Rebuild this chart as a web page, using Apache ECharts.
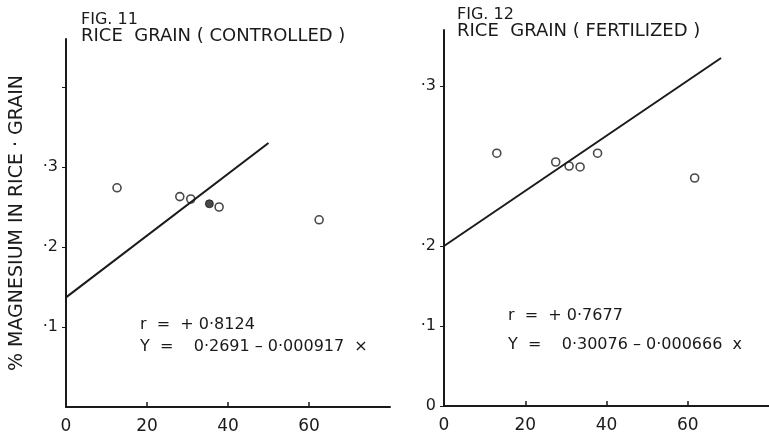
<!DOCTYPE html>
<html>
<head>
<meta charset="utf-8">
<title>Rice grain magnesium</title>
<script src="https://cdn.jsdelivr.net/npm/echarts@6/dist/echarts.min.js"></script>
<style>
  html, body { margin: 0; padding: 0; background: #fff; }
  #chart { width: 769px; height: 442px; }
</style>
</head>
<body>
<div id="chart"></div>
<script>
// x tick labels (both figures)
var xTicks = [0, 20, 40, 60];

// FIG. 11 - controlled
var leftX = [12.6, 28.1, 30.8, 37.8, 62.5];
var leftY = [0.274, 0.263, 0.260, 0.250, 0.234];
var leftSolidX = [35.4];
var leftSolidY = [0.254];
var leftFitX = [0, 50];
var leftFitY = [0.137, 0.330];
var leftYTicks = [0.1, 0.2, 0.3];

// FIG. 12 - fertilized
var rightX = [13.0, 27.5, 30.8, 33.5, 37.8, 61.7];
var rightY = [0.258, 0.2525, 0.250, 0.2494, 0.258, 0.2425];
var rightFitX = [0, 68.2];
var rightFitY = [0.200, 0.3175];
var rightYTicks = [0, 0.1, 0.2, 0.3];

function tickName(v) {
  if (v === 0) return '0';
  return '·' + Math.round(v * 10);
}

// the right figure's scale is drawn stretched above .2 (·2 to ·3 takes twice the room)
function rAxis(v) { return v <= 0.2 ? v : 0.2 + 2 * (v - 0.2); }
function rValue(u) { return u <= 0.2 ? u : 0.2 + (u - 0.2) / 2; }

function pairs(xs, ys, f) {
  return xs.map(function (x, i) { return [x, f ? f(ys[i]) : ys[i]]; });
}

var ink = '#1a1a1a';
var font = 'DejaVu Sans';

var chart = echarts.init(document.getElementById('chart'));

var xAxisBase = {
  type: 'value', min: 0, max: 80,
  splitLine: { show: false },
  axisLine: { lineStyle: { color: ink, width: 2 } },
  axisTick: { inside: true, length: 5, lineStyle: { color: ink, width: 1.5 }, customValues: xTicks },
  axisLabel: { color: ink, fontSize: 17, fontFamily: font, margin: 11, customValues: xTicks }
};

var option = {
  backgroundColor: '#fff',
  animation: false,
  grid: [
    { left: 66, top: 39, width: 324, height: 368 },
    { left: 444, top: 30, width: 332, height: 376 }
  ],
  xAxis: [
    Object.assign({ gridIndex: 0 }, xAxisBase),
    Object.assign({ gridIndex: 1 }, xAxisBase)
  ],
  yAxis: [
    {
      gridIndex: 0, type: 'value', min: 0, max: 0.46,
      name: '% MAGNESIUM IN RICE · GRAIN',
      nameLocation: 'middle', nameGap: 39, nameRotate: 90,
      nameTextStyle: { color: ink, fontSize: 19, fontFamily: font },
      splitLine: { show: false },
      axisLine: { lineStyle: { color: ink, width: 2 } },
      axisTick: { length: 4, lineStyle: { color: ink }, customValues: leftYTicks.concat([0.4]) },
      axisLabel: { color: ink, fontSize: 16, fontFamily: font, margin: 8,
        customValues: leftYTicks, formatter: function (v) { return tickName(v); } }
    },
    {
      gridIndex: 1, type: 'value', min: 0, max: 0.47,
      splitLine: { show: false },
      axisLine: { lineStyle: { color: ink, width: 2 } },
      axisTick: { length: 4, lineStyle: { color: ink }, customValues: rightYTicks.map(rAxis) },
      axisLabel: { color: ink, fontSize: 16, fontFamily: font, margin: 8,
        customValues: rightYTicks.map(rAxis),
        formatter: function (u) { return tickName(Math.round(rValue(u) * 10) / 10); } }
    }
  ],
  series: [
    {
      type: 'line', xAxisIndex: 0, yAxisIndex: 0,
      data: pairs(leftFitX, leftFitY), symbol: 'none',
      lineStyle: { color: ink, width: 2 }
    },
    {
      type: 'scatter', xAxisIndex: 0, yAxisIndex: 0,
      data: pairs(leftX, leftY), symbol: 'circle', symbolSize: 8,
      itemStyle: { color: '#fff', borderColor: ink, borderWidth: 1.6 }
    },
    {
      type: 'scatter', xAxisIndex: 0, yAxisIndex: 0,
      data: pairs(leftSolidX, leftSolidY), symbol: 'circle', symbolSize: 8,
      itemStyle: { color: ink, borderColor: ink, borderWidth: 1 }
    },
    {
      type: 'line', xAxisIndex: 1, yAxisIndex: 1,
      data: pairs(rightFitX, rightFitY, rAxis), symbol: 'none',
      lineStyle: { color: ink, width: 2 }
    },
    {
      type: 'scatter', xAxisIndex: 1, yAxisIndex: 1,
      data: pairs(rightX, rightY, rAxis), symbol: 'circle', symbolSize: 8,
      itemStyle: { color: '#fff', borderColor: ink, borderWidth: 1.6 }
    }
  ],
  graphic: [
    { type: 'text', left: 81, top: 12, style: { text: 'FIG. 11', fill: ink, font: '16px "DejaVu Sans"' } },
    { type: 'text', left: 81, top: 27, style: { text: 'RICE  GRAIN ( CONTROLLED )', fill: ink, font: '18px "DejaVu Sans"' } },
    { type: 'text', left: 140, top: 317, style: { text: 'r  =  + 0·8124', fill: ink, font: '16px "DejaVu Sans"' } },
    { type: 'text', left: 140, top: 339, style: { text: 'Y  =    0·2691 – 0·000917  ×', fill: ink, font: '16px "DejaVu Sans"' } },
    { type: 'text', left: 457, top: 7, style: { text: 'FIG. 12', fill: ink, font: '16px "DejaVu Sans"' } },
    { type: 'text', left: 457, top: 22, style: { text: 'RICE  GRAIN ( FERTILIZED )', fill: ink, font: '18px "DejaVu Sans"' } },
    { type: 'text', left: 508, top: 308, style: { text: 'r  =  + 0·7677', fill: ink, font: '16px "DejaVu Sans"' } },
    { type: 'text', left: 508, top: 337, style: { text: 'Y  =    0·30076 – 0·000666  x', fill: ink, font: '16px "DejaVu Sans"' } }
  ]
};

chart.setOption(option);
</script>
</body>
</html>
